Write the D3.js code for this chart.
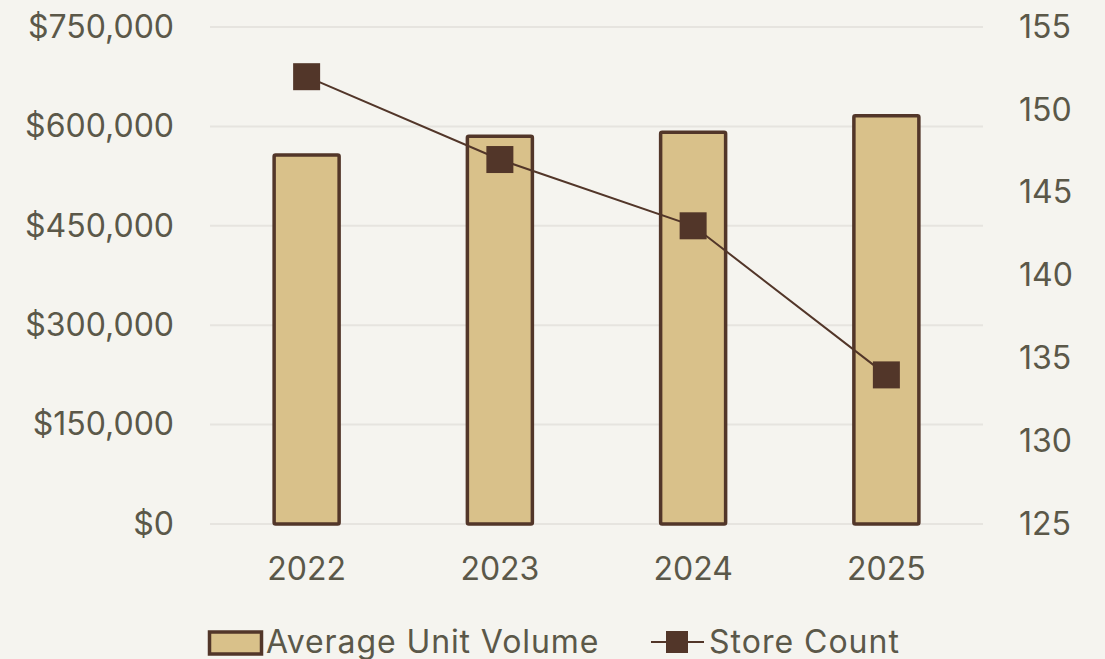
<!DOCTYPE html>
<html>
<head>
<meta charset="utf-8">
<script src="https://cdn.jsdelivr.net/npm/d3@7"></script>
<style>
  body { margin: 0; background: #f5f4ef; }
  svg { display: block; font-family: Inter, "Open Sans", sans-serif; }
</style>
</head>
<body>
<svg id="chart" width="1105" height="659"></svg>
<script>
var years = ["2022", "2023", "2024", "2025"];
var unitVolume = [557000, 585000, 591000, 616000];
var storeCount = [152, 147, 143, 134];
var leftTicks = [0, 150000, 300000, 450000, 600000, 750000];
var rightTicks = [125, 130, 135, 140, 145, 150, 155];

var dark = "#523629", fill = "#d9c18a", textCol = "#5b5849", grid = "#e6e4df";
var fontSize = "32px";

var svg = d3.select("#chart");
var plotLeft = 210, plotRight = 983, plotTop = 27, plotBottom = 524;

var x = d3.scaleBand().domain(years).range([plotLeft, plotRight]).paddingInner(0.66).paddingOuter(0.33);
var yL = d3.scaleLinear().domain([0, 750000]).range([plotBottom, plotTop]);
var yR = d3.scaleLinear().domain([125, 155]).range([plotBottom, plotTop]);

/* gridlines */
svg.append("g").selectAll("line")
    .data(leftTicks)
    .enter().append("line")
    .attr("x1", plotLeft).attr("x2", plotRight)
    .attr("y1", function (d) { return yL(d); })
    .attr("y2", function (d) { return yL(d); })
    .style("stroke", grid).style("stroke-width", 2);

function styleAxis(g) {
    g.attr("font-family", null).attr("font-size", null);
    g.select(".domain").remove();
    g.selectAll("text").style("font-size", fontSize).style("fill", textCol);
}

/* left axis */
var fmt = d3.format("$,");
svg.append("g")
    .attr("transform", "translate(174,0)")
    .call(d3.axisLeft(yL).tickValues(leftTicks).tickFormat(fmt).tickSize(0).tickPadding(0))
    .call(styleAxis);

/* right axis */
svg.append("g")
    .attr("transform", "translate(1019,0)")
    .call(d3.axisRight(yR).tickValues(rightTicks).tickSize(0).tickPadding(0))
    .call(styleAxis);

/* bottom labels */
svg.append("g")
    .attr("transform", "translate(0,557)")
    .call(d3.axisBottom(x).tickSize(0).tickPadding(0))
    .call(styleAxis);

/* bars */
var bw = 65;
svg.append("g").selectAll("rect")
    .data(unitVolume)
    .enter().append("rect")
    .attr("x", function (d, i) { return x(years[i]) + x.bandwidth() / 2 - bw / 2; })
    .attr("y", function (d) { return yL(d); })
    .attr("width", bw)
    .attr("height", function (d) { return plotBottom - yL(d); })
    .style("fill", fill).style("stroke", dark).style("stroke-width", 3.5)
    .attr("rx", 1.5);

/* line */
var line = d3.line()
    .x(function (d, i) { return x(years[i]) + x.bandwidth() / 2; })
    .y(function (d) { return yR(d); });
svg.append("path")
    .datum(storeCount)
    .attr("d", line)
    .style("fill", "none").style("stroke", dark).style("stroke-width", 2);

var ms = 27;
svg.append("g").selectAll("rect")
    .data(storeCount)
    .enter().append("rect")
    .attr("x", function (d, i) { return x(years[i]) + x.bandwidth() / 2 - ms / 2; })
    .attr("y", function (d) { return yR(d) - ms / 2; })
    .attr("width", ms).attr("height", ms)
    .style("fill", dark);

/* legend */
var lg = svg.append("g");
lg.append("rect").attr("x", 209.5).attr("y", 632).attr("width", 52).attr("height", 22)
    .style("fill", fill).style("stroke", dark).style("stroke-width", 3.5);
lg.append("text").attr("x", 266).attr("y", 653).text("Average Unit Volume")
    .style("font-size", fontSize).style("fill", textCol).style("letter-spacing", "0.9px");
lg.append("line").attr("x1", 651).attr("x2", 704).attr("y1", 642).attr("y2", 642)
    .style("stroke", dark).style("stroke-width", 2);
lg.append("rect").attr("x", 666).attr("y", 631).attr("width", 22).attr("height", 22)
    .style("fill", dark);
lg.append("text").attr("x", 709).attr("y", 653).text("Store Count")
    .style("font-size", fontSize).style("fill", textCol).style("letter-spacing", "1px");
</script>
</body>
</html>
